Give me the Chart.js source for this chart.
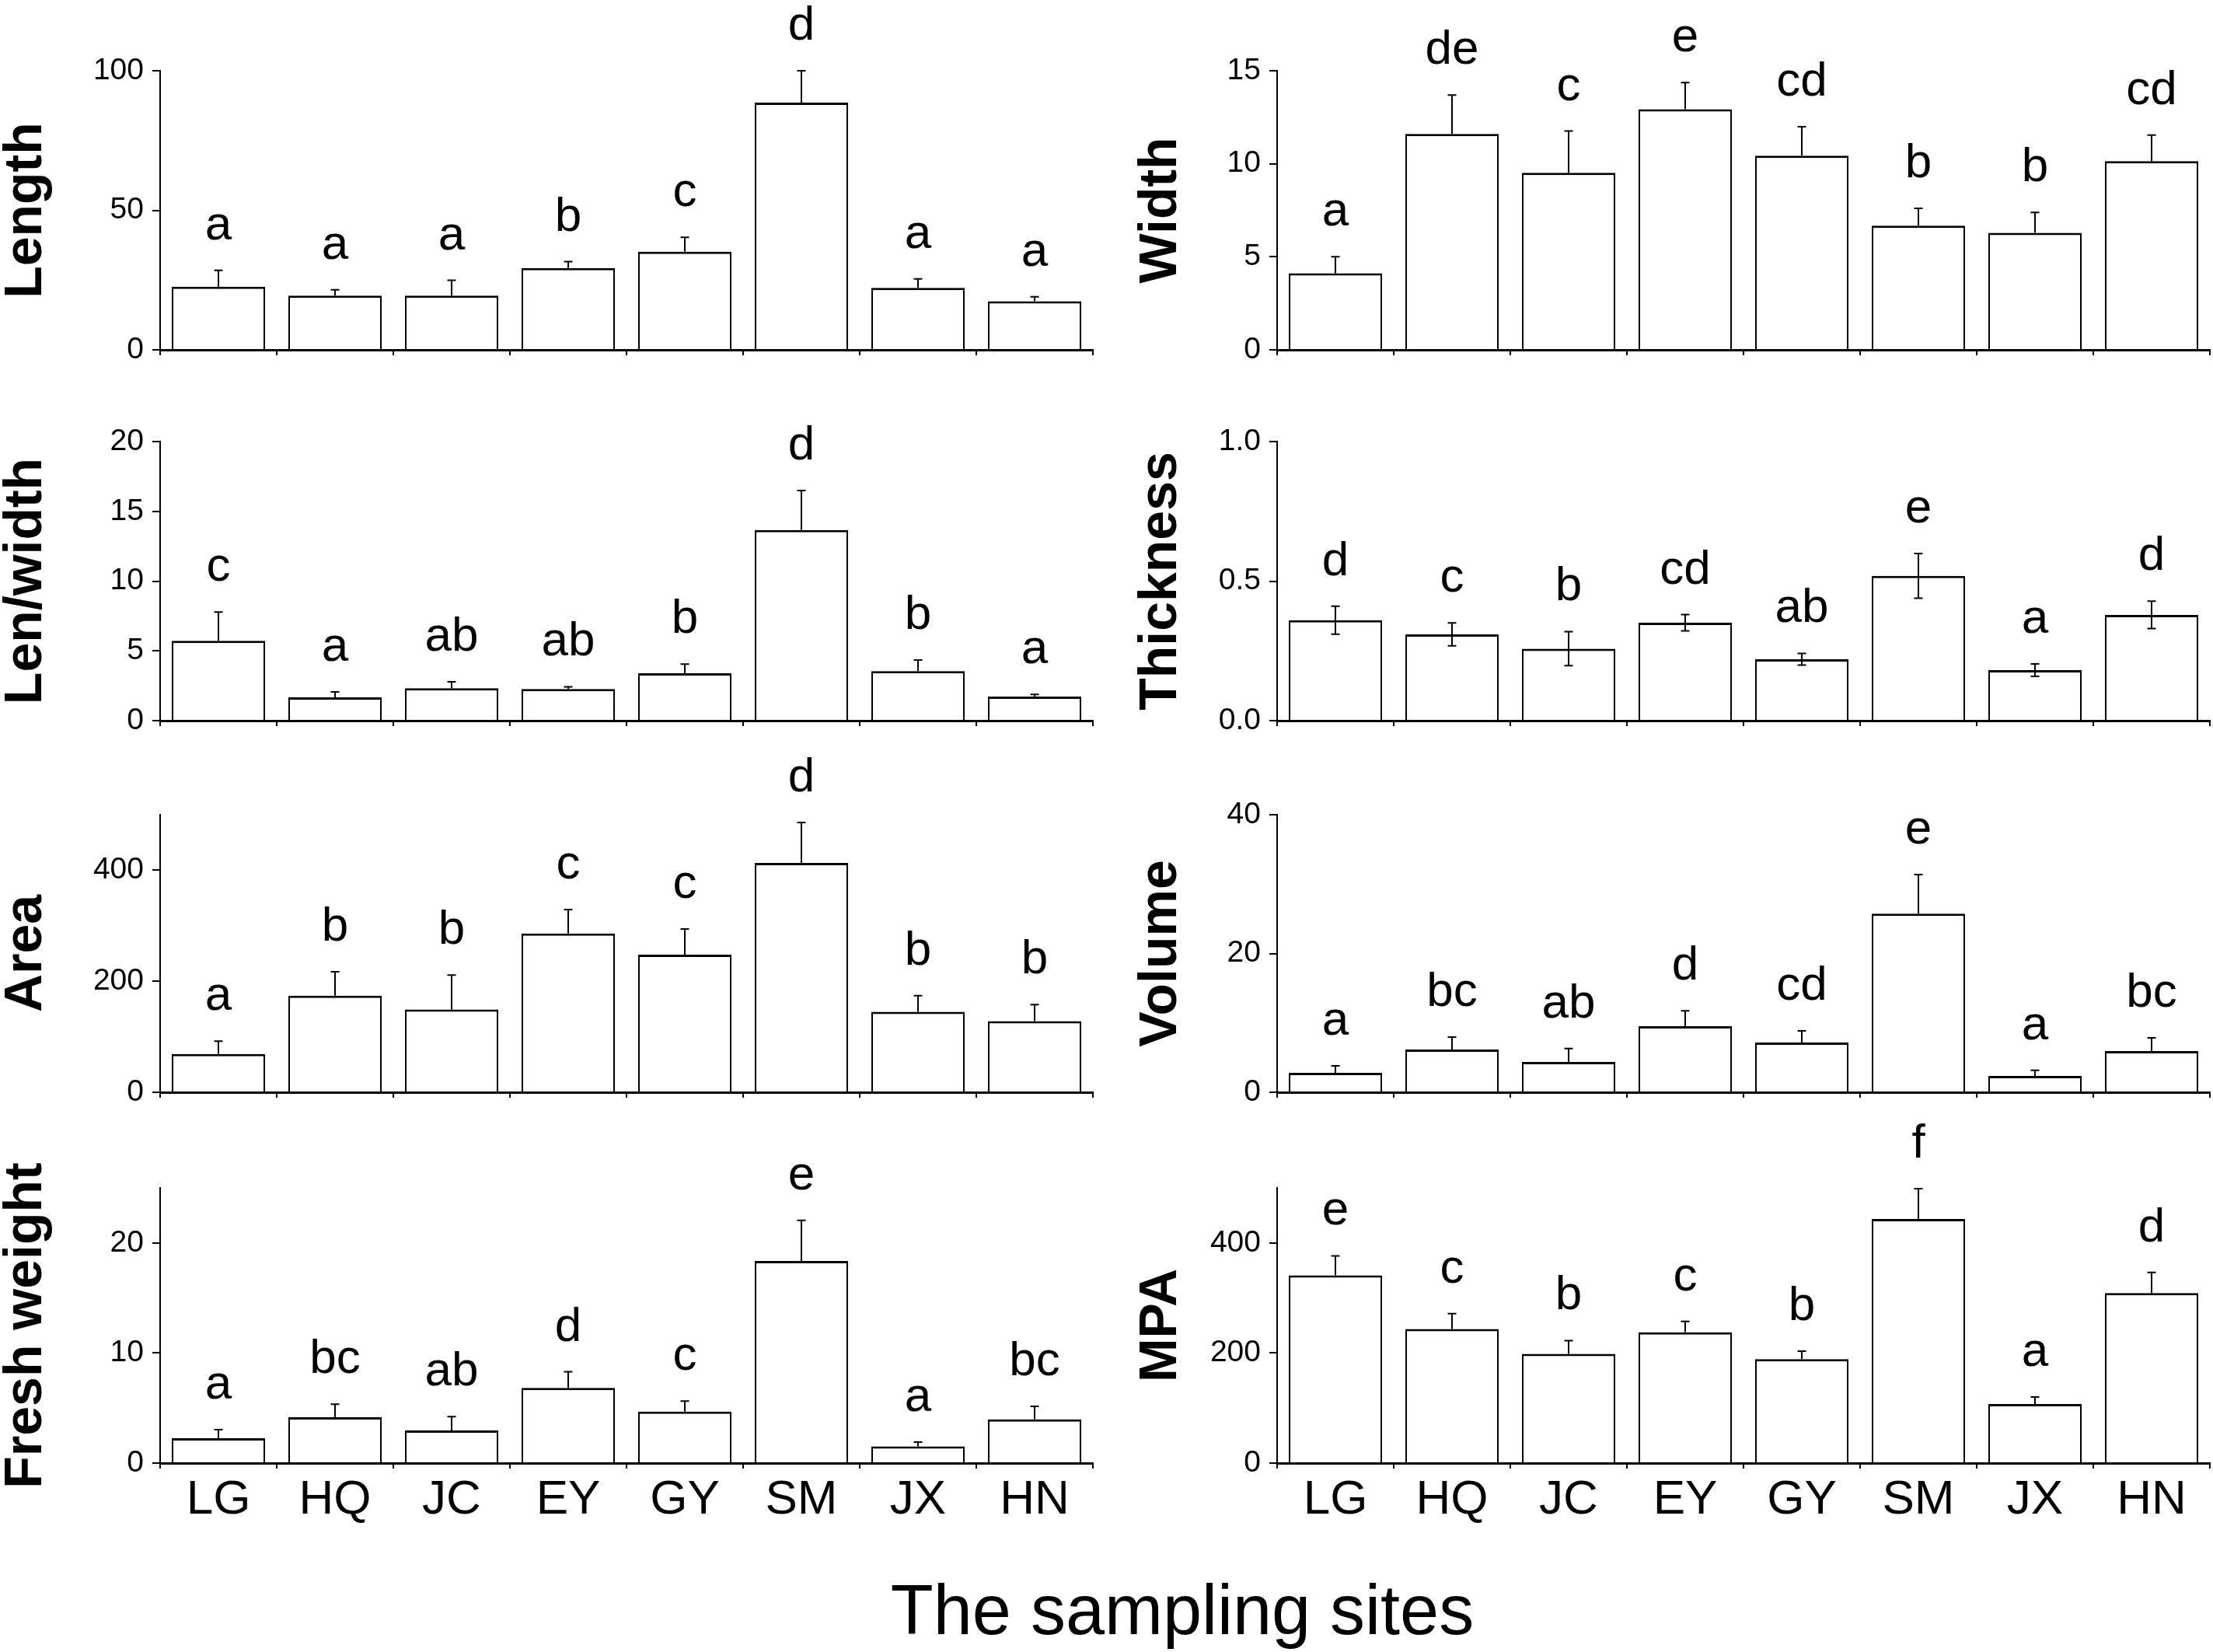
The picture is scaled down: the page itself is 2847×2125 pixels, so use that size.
<!DOCTYPE html>
<html>
<head>
<meta charset="utf-8">
<script src="https://cdn.jsdelivr.net/npm/chart.js@4.4.1/dist/chart.umd.min.js"></script>
<style>
  html, body { margin: 0; padding: 0; background: #fff; overflow: hidden; }
  #page { position: relative; width: 2847px; height: 2125px; background: #fff; }
  canvas { position: absolute; }
  #xtitle {
    position: absolute; left: 1521px; top: 2026px; transform: translateX(-50%);
    font-family: 'Liberation Sans', Arial, sans-serif; font-size: 90px; line-height: 90px;
    white-space: nowrap; color: #000;
  }
</style>
</head>
<body>
<div id="page">
  <canvas id="pLength"></canvas>
  <canvas id="pWidth"></canvas>
  <canvas id="pRatio"></canvas>
  <canvas id="pThick"></canvas>
  <canvas id="pArea"></canvas>
  <canvas id="pVolume"></canvas>
  <canvas id="pFresh"></canvas>
  <canvas id="pMpa"></canvas>
  <div id="xtitle">The sampling sites</div>
</div>
<script>
// sampling sites
const sites = ['LG', 'HQ', 'JC', 'EY', 'GY', 'SM', 'JX', 'HN'];

// means, SD and significance letters
const lengthMean = [22.6, 19.4, 19.4, 29.3, 35.2, 88.6, 22.2, 17.4];
const lengthSD = [5.9, 2.1, 5.5, 2.3, 5.1, 11.4, 3.2, 1.6];
const lengthLetters = ['a', 'a', 'a', 'b', 'c', 'd', 'a', 'a'];
const lengthTicks = [0, 50, 100];

const widthMean = [4.12, 11.61, 9.52, 12.93, 10.44, 6.67, 6.29, 10.14];
const widthSD = [0.88, 2.08, 2.24, 1.43, 1.55, 0.93, 1.10, 1.40];
const widthLetters = ['a', 'de', 'c', 'e', 'cd', 'b', 'b', 'cd'];
const widthTicks = [0, 5, 10, 15];

const ratioMean = [5.72, 1.67, 2.32, 2.27, 3.40, 13.66, 3.55, 1.73];
const ratioSD = [2.07, 0.39, 0.47, 0.16, 0.65, 2.83, 0.80, 0.15];
const ratioLetters = ['c', 'a', 'ab', 'ab', 'b', 'd', 'b', 'a'];
const ratioTicks = [0, 5, 10, 15, 20];

const thickMean = [0.360, 0.309, 0.258, 0.351, 0.220, 0.519, 0.181, 0.379];
const thickSD = [0.050, 0.041, 0.061, 0.029, 0.021, 0.080, 0.022, 0.049];
const thickLetters = ['d', 'c', 'b', 'cd', 'ab', 'e', 'a', 'd'];
const thickTicks = [0, 0.5, 1.0];

const areaMean = [69, 174, 149, 286, 248, 413, 145, 128];
const areaSD = [23, 43, 62, 43, 46, 73, 29, 30];
const areaLetters = ['a', 'b', 'b', 'c', 'c', 'd', 'b', 'b'];
const areaTicks = [0, 200, 400];

const volumeMean = [2.80, 6.16, 4.37, 9.51, 7.16, 25.75, 2.35, 5.93];
const volumeSD = [1.01, 1.79, 1.94, 2.24, 1.68, 5.63, 0.82, 1.91];
const volumeLetters = ['a', 'bc', 'ab', 'd', 'cd', 'e', 'a', 'bc'];
const volumeTicks = [0, 20, 40];

const freshMean = [2.26, 4.17, 2.96, 6.83, 4.67, 18.37, 1.51, 3.97];
const freshSD = [0.78, 1.18, 1.26, 1.46, 0.96, 3.69, 0.40, 1.18];
const freshLetters = ['a', 'bc', 'ab', 'd', 'c', 'e', 'a', 'bc'];
const freshTicks = [0, 10, 20];

const mpaMean = [341, 243.5, 198.5, 237.5, 189, 443.5, 107.5, 309];
const mpaSD = [35.5, 28, 24, 20, 14.5, 55, 12.5, 37.5];
const mpaLetters = ['e', 'c', 'b', 'c', 'b', 'f', 'a', 'd'];
const mpaTicks = [0, 200, 400];

const FONT = "'Liberation Sans', Arial, sans-serif";
Chart.defaults.font.family = FONT;
Chart.defaults.color = '#000';

// page geometry of the two columns and four rows
const cols = [
  { left: 0, width: 1430, axisX: 206, axisEnd: 1406 },
  { left: 1460, width: 1387, axisX: 1643, axisEnd: 2843 }
];
const rows = [
  { top: 0, height: 490, maxY: 91, zeroY: 450 },
  { top: 470, height: 500, maxY: 568, zeroY: 927 },
  { top: 950, height: 500, maxY: 1048, zeroY: 1405 },
  { top: 1430, height: 560, maxY: 1528, zeroY: 1882 }
];

const panels = [
  { id: 'pLength', title: 'Length', mean: lengthMean, sd: lengthSD, letters: lengthLetters, ticks: lengthTicks, max: 100, col: 0, row: 0 },
  { id: 'pWidth', title: 'Width', mean: widthMean, sd: widthSD, letters: widthLetters, ticks: widthTicks, max: 15, col: 1, row: 0 },
  { id: 'pRatio', title: 'Len/width', mean: ratioMean, sd: ratioSD, letters: ratioLetters, ticks: ratioTicks, max: 20, col: 0, row: 1 },
  { id: 'pThick', title: 'Thickness', mean: thickMean, sd: thickSD, letters: thickLetters, ticks: thickTicks, max: 1.0, col: 1, row: 1, twoSided: true, decimals: 1 },
  { id: 'pArea', title: 'Area', mean: areaMean, sd: areaSD, letters: areaLetters, ticks: areaTicks, max: 500, col: 0, row: 2 },
  { id: 'pVolume', title: 'Volume', mean: volumeMean, sd: volumeSD, letters: volumeLetters, ticks: volumeTicks, max: 40, col: 1, row: 2 },
  { id: 'pFresh', title: 'Fresh weight', mean: freshMean, sd: freshSD, letters: freshLetters, ticks: freshTicks, max: 25, col: 0, row: 3 },
  { id: 'pMpa', title: 'MPA', mean: mpaMean, sd: mpaSD, letters: mpaLetters, ticks: mpaTicks, max: 500, col: 1, row: 3 }
];

// error bars + letters above each bar
function marksPlugin(p) {
  return {
    id: 'marks',
    afterDatasetsDraw(chart) {
      const ctx = chart.ctx;
      const y = chart.scales.y;
      const meta = chart.getDatasetMeta(0);
      ctx.save();
      ctx.strokeStyle = '#000';
      ctx.lineWidth = 2;
      meta.data.forEach((bar, i) => {
        const cx = bar.x;
        const yTop = y.getPixelForValue(p.mean[i] + p.sd[i]);
        const yLow = p.twoSided ? y.getPixelForValue(p.mean[i] - p.sd[i]) : bar.y;
        ctx.beginPath();
        ctx.moveTo(cx, yLow);
        ctx.lineTo(cx, yTop);
        ctx.moveTo(cx - 5.5, yTop);
        ctx.lineTo(cx + 5.5, yTop);
        if (p.twoSided) {
          ctx.moveTo(cx - 5.5, yLow);
          ctx.lineTo(cx + 5.5, yLow);
        }
        ctx.stroke();

        ctx.fillStyle = '#000';
        ctx.font = '62px ' + FONT;
        ctx.textAlign = 'center';
        ctx.textBaseline = 'alphabetic';
        ctx.fillText(p.letters[i], cx, yTop - 40);
      });
      ctx.restore();
    }
  };
}

panels.forEach(p => {
  const c = cols[p.col];
  const r = rows[p.row];
  const canvas = document.getElementById(p.id);
  canvas.width = c.width;
  canvas.height = r.height;
  canvas.style.left = c.left + 'px';
  canvas.style.top = r.top + 'px';
  canvas.style.width = c.width + 'px';
  canvas.style.height = r.height + 'px';

  const yAxisWidth = c.axisX - c.left;
  const xAxisHeight = r.top + r.height - r.zeroY;
  const lastRow = p.row === rows.length - 1;

  new Chart(canvas, {
    type: 'bar',
    data: {
      labels: sites,
      datasets: [{
        data: p.mean,
        backgroundColor: '#fff',
        borderColor: '#000',
        borderWidth: { top: 3, left: 2, right: 2, bottom: 0 },
        borderSkipped: false,
        categoryPercentage: 0.8,
        barPercentage: 1.0
      }]
    },
    options: {
      responsive: false,
      animation: false,
      devicePixelRatio: 1,
      layout: {
        padding: { top: r.maxY - r.top, right: c.left + c.width - c.axisEnd, left: 0, bottom: 0 }
      },
      plugins: {
        legend: { display: false },
        tooltip: { enabled: false }
      },
      scales: {
        x: {
          offset: true,
          grid: { display: true, drawOnChartArea: false, drawTicks: true, tickLength: 7, lineWidth: 2, color: '#000', offset: true },
          border: { display: true, color: '#000', width: 3 },
          ticks: { display: lastRow, color: '#000', font: { size: 62 }, padding: 4, maxRotation: 0, autoSkip: false },
          afterFit: s => { s.height = xAxisHeight; }
        },
        y: {
          min: 0,
          max: p.max,
          grid: { drawOnChartArea: false, drawTicks: true, tickLength: 10, lineWidth: 2, color: '#000' },
          border: { display: true, color: '#000', width: 2 },
          ticks: {
            color: '#000',
            font: { size: 39, lineHeight: 1 },
            padding: 11,
            callback: v => p.decimals ? Number(v).toFixed(p.decimals) : String(v)
          },
          afterBuildTicks: s => { s.ticks = p.ticks.map(v => ({ value: v })); },
          afterFit: s => { s.width = yAxisWidth; },
          title: {
            display: true,
            text: p.title,
            color: '#000',
            font: { size: 68, weight: 'bold', lineHeight: 1 },
            padding: 0
          }
        }
      }
    },
    plugins: [marksPlugin(p)]
  });
});
</script>
</body>
</html>
